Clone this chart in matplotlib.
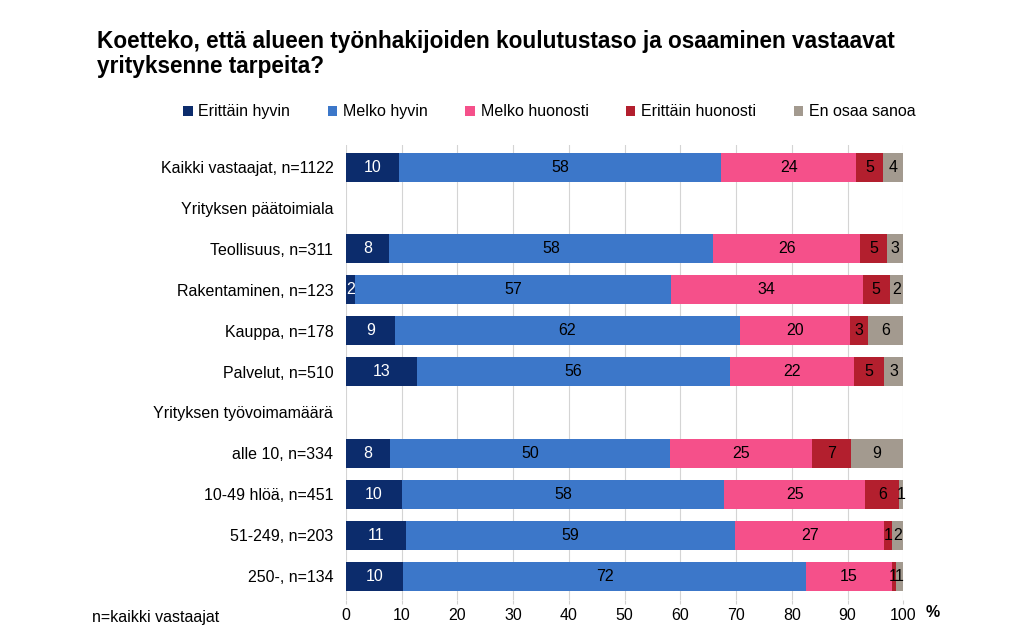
import numpy as np
import matplotlib.pyplot as plt
from matplotlib.patches import Patch

plt.rcParams['font.family'] = ['Liberation Sans', 'DejaVu Sans']

# Rivit ylhäältä alas; otsikkorivit ilman palkkia
rivit = ['Kaikki vastaajat, n=1122', 'Yrityksen päätoimiala', 'Teollisuus, n=311',
         'Rakentaminen, n=123', 'Kauppa, n=178', 'Palvelut, n=510',
         'Yrityksen työvoimamäärä', 'alle 10, n=334', '10-49 hlöä, n=451',
         '51-249, n=203', '250-, n=134']
otsikkorivit = [1, 6]

sarjat = ['Erittäin hyvin', 'Melko hyvin', 'Melko huonosti', 'Erittäin huonosti', 'En osaa sanoa']
varit = ['#0c2c6c', '#3c77c9', '#f5508a', '#b31f2e', '#a39a8f']

# prosentit datariveille (otsikkorivit ohitetaan)
erittain_hyvin = [9.6, 7.8, 1.6, 8.8, 12.7, 7.9, 10.1, 10.8, 10.2]
melko_hyvin = [57.7, 58.1, 56.7, 61.9, 56.2, 50.3, 57.8, 59.0, 72.4]
melko_huonosti = [24.3, 26.4, 34.4, 19.8, 22.3, 25.4, 25.3, 26.8, 15.3]
erittain_huonosti = [4.8, 4.8, 4.9, 3.2, 5.4, 7.0, 6.1, 1.4, 0.7]
en_osaa = [3.6, 2.9, 2.4, 6.3, 3.4, 9.4, 0.7, 2.0, 1.4]

data = np.array([erittain_hyvin, melko_hyvin, melko_huonosti, erittain_huonosti, en_osaa])
datarivit = [i for i in range(len(rivit)) if i not in otsikkorivit]

fig = plt.figure(figsize=(10.23, 6.28), dpi=100)
ax = fig.add_axes([0.338, 0.045, 0.545, 0.724])

vasen = np.zeros(len(datarivit))
for s, nimi in enumerate(sarjat):
    arvot = data[s]
    bars = ax.barh(datarivit, arvot, left=vasen, height=0.71, color=varit[s], zorder=2)
    for b, v in zip(bars, arvot):
        ax.text(b.get_x() + b.get_width() / 2, b.get_y() + b.get_height() / 2,
                f'{v:.0f}', ha='center', va='center', fontsize=11.5,
                color='white' if s == 0 else 'black', zorder=3)
    vasen += arvot

ax.set_xlim(0, 100)
ax.set_ylim(10.58, -0.54)
ax.set_xticks(np.arange(0, 101, 10))
ax.set_yticks(range(len(rivit)))
ax.set_yticklabels(rivit, fontsize=11.5)
ax.tick_params(axis='y', length=0, pad=9)
ax.tick_params(axis='x', labelsize=11.5, length=3, color='#d0d0d0', pad=3)
ax.grid(axis='x', color='#d4d4d4', linewidth=0.8, zorder=0)
for sp in ax.spines.values():
    sp.set_visible(False)

fig.text(0.095, 0.952, 'Koetteko, että alueen työnhakijoiden koulutustaso ja osaaminen vastaavat\nyrityksenne tarpeita?',
         fontsize=16.3, fontweight='bold', ha='left', va='top', linespacing=1.1)

kahvat = [Patch(facecolor=c, edgecolor='none') for c in varit]
fig.legend(kahvat, sarjat, loc='center', bbox_to_anchor=(0.537, 0.822), ncol=5,
           frameon=False, fontsize=11.5, handlelength=0.6, handleheight=0.6,
           handletextpad=0.35, columnspacing=2.35)

fig.text(0.905, 0.025, '%', fontsize=11.5, fontweight='bold', ha='left', va='center')
fig.text(0.09, 0.016, 'n=kaikki vastaajat', fontsize=11.5, ha='left', va='center')

plt.savefig('out.png', dpi=100)
